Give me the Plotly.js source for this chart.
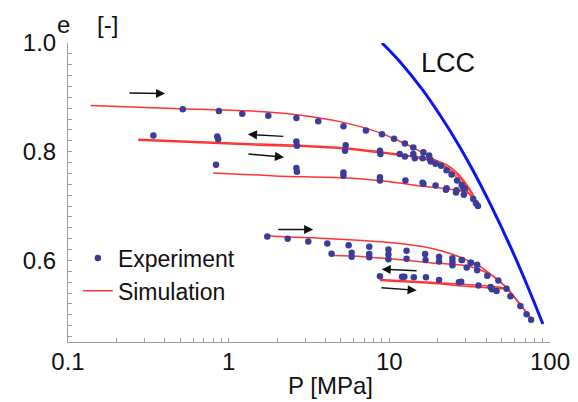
<!DOCTYPE html>
<html>
<head>
<meta charset="utf-8">
<script src="https://cdn.plot.ly/plotly-3.0.1.min.js"></script>
<style>html,body{margin:0;padding:0;background:#fff;}#chart{width:578px;height:402px;}</style>
</head>
<body>
<div id="chart"></div>
<script>
// ---------- Data ----------
// Sample 1 (upper group): experiment
const exp1TopP = [0.518, 0.87, 1.215, 1.764, 2.64, 3.61, 5.18, 7.15, 9.0, 10.7, 12.5, 14.1, 16.3, 17.7, 18.1, 19.4, 21.0, 22.7, 24.4, 26.4, 28.2, 29.5, 33.3, 34.6, 35.6];
const exp1TopE = [0.878, 0.875, 0.870, 0.866, 0.862, 0.856, 0.847, 0.839, 0.832, 0.824, 0.815, 0.808, 0.799, 0.793, 0.782, 0.778, 0.774, 0.766, 0.758, 0.747, 0.739, 0.732, 0.713, 0.705, 0.700];
const exp1MidP = [0.340, 0.849, 0.86, 2.64, 2.66, 5.35, 5.30, 8.74, 8.80, 11.6, 12.5, 14.1, 14.4, 16.1, 17.9];
const exp1MidE = [0.830, 0.828, 0.823, 0.819, 0.811, 0.812, 0.802, 0.802, 0.796, 0.796, 0.791, 0.796, 0.788, 0.788, 0.786];
const exp1LowP = [0.834, 2.64, 2.66, 5.18, 5.18, 8.74, 8.74, 12.6, 16.1, 16.3, 19.4, 22.7, 22.5, 26.2, 26.0, 28.9, 29.1];
const exp1LowE = [0.776, 0.770, 0.763, 0.762, 0.756, 0.753, 0.747, 0.747, 0.743, 0.741, 0.738, 0.733, 0.730, 0.729, 0.725, 0.733, 0.721];
// Sample 2 (lower group): experiment
const exp2TopP = [1.74, 2.33, 3.13, 4.11, 5.58, 7.50, 9.87, 12.8, 16.7, 20.4, 24.7, 28.3, 32.2, 35.2, 40.7, 47.7, 53.7, 56.7, 65.4, 71.5, 76.3];
const exp2TopE = [0.644, 0.640, 0.635, 0.631, 0.628, 0.625, 0.620, 0.618, 0.612, 0.607, 0.604, 0.601, 0.596, 0.592, 0.572, 0.563, 0.548, 0.534, 0.516, 0.501, 0.491];
const exp2MidP = [4.37, 5.83, 5.83, 7.50, 7.50, 9.87, 9.87, 12.8, 16.8, 20.4, 24.7, 24.7, 28.2, 30.3, 32.1, 35.2];
const exp2MidE = [0.6125, 0.614, 0.607, 0.612, 0.606, 0.611, 0.602, 0.603, 0.601, 0.598, 0.597, 0.591, 0.601, 0.587, 0.596, 0.582];
const exp2LowP = [8.74, 12.0, 12.4, 14.2, 16.9, 20.4, 27.1, 28.0, 35.9, 42.7, 43.5, 46.5];
const exp2LowE = [0.571, 0.570, 0.570, 0.569, 0.569, 0.564, 0.560, 0.561, 0.554, 0.551, 0.547, 0.544];

// Simulation curves
const sim1LoadP = [0.138, 0.498, 1.566, 2.65, 5.17, 8.34, 11.1, 14.8, 18.0, 22.7, 27.5, 33.3, 35.5];
const sim1LoadE = [0.885, 0.879, 0.874, 0.868, 0.854, 0.837, 0.822, 0.804, 0.790, 0.770, 0.746, 0.712, 0.700];
const sim1UnloadP = [35.5, 33.3, 30.3, 26.2, 22.7, 17.9, 14.8, 8.74, 5.42, 2.65, 1.566, 0.274];
const sim1UnloadE = [0.702, 0.720, 0.740, 0.762, 0.776, 0.787, 0.791, 0.800, 0.807, 0.812, 0.814, 0.823];
const sim1ReloadP = [0.274, 1.566, 2.65, 5.42, 8.74, 14.8, 17.9, 22.7, 26.2, 30.3, 33.3, 35.5];
const sim1ReloadE = [0.821, 0.812, 0.810, 0.805, 0.798, 0.789, 0.784, 0.772, 0.758, 0.737, 0.718, 0.702];
const sim1LowP = [0.80, 1.566, 2.09, 5.17, 9.17, 17.9, 22.7, 30.3, 33.3, 35.5];
const sim1LowE = [0.761, 0.757, 0.755, 0.752, 0.746, 0.735, 0.732, 0.725, 0.716, 0.703];
const sim2LoadP = [1.72, 2.09, 4.27, 10.1, 17.9, 25.0, 30.3, 34.9, 44.3, 53.7, 59.0, 71.5, 75.7];
const sim2LoadE = [0.646, 0.644, 0.640, 0.633, 0.623, 0.611, 0.601, 0.593, 0.571, 0.550, 0.535, 0.504, 0.494];
const sim2MidP = [4.37, 6.88, 10.1, 17.9, 30.3, 36.6, 44.3, 48.8, 53.7, 59.0, 71.5, 75.7];
const sim2MidE = [0.609, 0.607, 0.603, 0.596, 0.590, 0.583, 0.571, 0.561, 0.550, 0.535, 0.504, 0.494];
const sim2LowP = [8.74, 17.9, 28.8, 44.3, 50.0, 53.7, 59.0, 71.5, 75.7];
const sim2LowE = [0.565, 0.560, 0.556, 0.552, 0.550, 0.548, 0.535, 0.504, 0.494];
const sim2Low2P = [8.74, 17.9, 28.8, 44.3, 50.0, 53.7];
const sim2Low2E = [0.563, 0.558, 0.553, 0.549, 0.548, 0.548];

// Limit compression curve
const lccP = [9.0, 11.6, 16.2, 20.6, 26.2, 33.1, 42.3, 58.8, 75.0, 90.3];
const lccE = [1.0, 0.966, 0.913, 0.868, 0.819, 0.766, 0.705, 0.615, 0.542, 0.483];

// Direction arrows: tail -> head (P, e)
const arrowTailP = [0.236, 2.24, 1.30, 1.99, 15.1, 8.74];
const arrowTailE = [0.908, 0.828, 0.796, 0.657, 0.581, 0.550];
const arrowHeadP = [0.402, 1.318, 2.21, 3.36, 8.96, 14.8];
const arrowHeadE = [0.907, 0.832, 0.790, 0.657, 0.584, 0.545];

// Tick labels
const xTickVals = [0.1,0.2,0.3,0.4,0.5,0.6,0.7,0.8,0.9,1,2,3,4,5,6,7,8,9,10,20,30,40,50,60,70,80,90,100];
const xLabelled = {0.1:'0.1', 1:'1', 10:'10', 100:'100'};
const yTickVals = [0.46,0.48,0.50,0.52,0.54,0.56,0.58,0.60,0.62,0.64,0.66,0.68,0.70,0.72,0.74,0.76,0.78,0.80,0.82,0.84,0.86,0.88,0.90,0.92,0.94,0.96,0.98,1.00];
const yLabelled = {'0.60':'0.6', '0.80':'0.8', '1.00':'1.0'};

// ---------- Build ----------
const RED = '#ff3434', DOT = '#3b3d98', FONT = 'Liberation Sans, Arial, sans-serif';
const sims = [
  [sim1LoadP, sim1LoadE], [sim1UnloadP, sim1UnloadE], [sim1ReloadP, sim1ReloadE], [sim1LowP, sim1LowE],
  [sim2LoadP, sim2LoadE], [sim2MidP, sim2MidE], [sim2LowP, sim2LowE], [sim2Low2P, sim2Low2E]
];
const exps = [
  [exp1TopP, exp1TopE], [exp1MidP, exp1MidE], [exp1LowP, exp1LowE],
  [exp2TopP, exp2TopE], [exp2MidP, exp2MidE], [exp2LowP, exp2LowE]
];
const data = [];
sims.forEach((s, i) => data.push({
  x: s[0], y: s[1], type: 'scatter', mode: 'lines', name: 'Simulation',
  line: {color: RED, width: 1.5, shape: 'spline', smoothing: 0.8},
  legendgroup: 'sim', showlegend: i === 0, legendrank: 2
}));
data.push({x: lccP, y: lccE, type: 'scatter', mode: 'lines', line: {color: '#0b16f0', width: 3, shape: 'spline'}, showlegend: false});
exps.forEach((s, i) => data.push({
  x: s[0], y: s[1], type: 'scatter', mode: 'markers', name: 'Experiment',
  marker: {color: DOT, size: 6.5}, legendgroup: 'exp', showlegend: i === 0, legendrank: 1
}));

const annotations = arrowTailP.map((tp, i) => ({
  x: Math.log10(arrowHeadP[i]), y: arrowHeadE[i], xref: 'x', yref: 'y',
  ax: Math.log10(tp), ay: arrowTailE[i], axref: 'x', ayref: 'y',
  text: '', showarrow: true, arrowhead: 2, arrowsize: 1.3, arrowwidth: 1.4, arrowcolor: '#111', standoff: 0
}));
annotations.push({x: Math.log10(23.2), y: 0.963, xref: 'x', yref: 'y', text: 'LCC', showarrow: false,
  font: {family: FONT, size: 27, color: '#111'}, xanchor: 'center', yanchor: 'middle'});
annotations.push({x: 0.0395, y: 1.063, xref: 'paper', yref: 'paper', text: 'e\u00a0\u00a0\u00a0\u00a0[-]', showarrow: false,
  font: {family: FONT, size: 24, color: '#111'}, xanchor: 'center', yanchor: 'middle'});
annotations.push({x: 0.5436, y: -0.147, xref: 'paper', yref: 'paper', text: 'P [MPa]', showarrow: false,
  font: {family: FONT, size: 24, color: '#111'}, xanchor: 'center', yanchor: 'middle'});

const axisCommon = {showline: true, linecolor: '#9a9a9a', linewidth: 1, ticks: 'inside', ticklen: 4,
  tickcolor: '#9a9a9a', tickwidth: 1, showgrid: false, zeroline: false, mirror: false,
  tickfont: {family: FONT, size: 24, color: '#111'}, tickmode: 'array'};

const layout = {
  width: 578, height: 402, margin: {l: 68, r: 28, t: 43, b: 60},
  paper_bgcolor: '#fff', plot_bgcolor: '#fff', showlegend: true, hovermode: false,
  xaxis: Object.assign({}, axisCommon, {type: 'log', range: [-1, 2], tickvals: xTickVals,
    ticktext: xTickVals.map(v => xLabelled[v] || ''), ticklabelstandoff: -2}),
  yaxis: Object.assign({}, axisCommon, {range: [0.45, 1.0], tickvals: yTickVals,
    ticktext: yTickVals.map(v => yLabelled[v.toFixed(2)] || ''), ticklabelstandoff: 6}),
  legend: {x: 0.0205, y: 0.353, xanchor: 'left', yanchor: 'top', bgcolor: 'rgba(0,0,0,0)',
    font: {family: FONT, size: 23, color: '#111'}, tracegroupgap: 0, itemclick: false},
  annotations: annotations
};
Plotly.newPlot('chart', data, layout, {staticPlot: true, displayModeBar: false});
</script>
</body>
</html>
